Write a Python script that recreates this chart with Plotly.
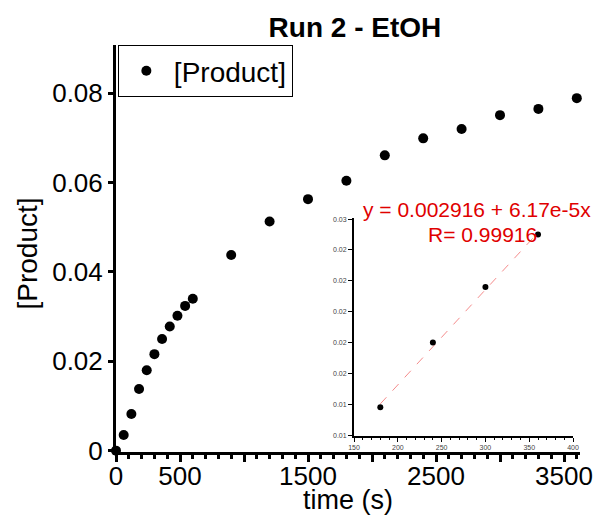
import plotly.graph_objects as go

# ---- data ----
time_s = [0, 60, 120, 180, 240, 300, 360, 420, 480, 540, 600,
          900, 1200, 1500, 1800, 2100, 2400, 2700, 3000, 3300, 3600]
product = [0.0, 0.0035, 0.0082, 0.0138, 0.0180, 0.0216, 0.0250, 0.0278, 0.0302, 0.0324, 0.0340,
           0.0438, 0.0513, 0.0563, 0.0604, 0.0661, 0.0699, 0.0720, 0.0751, 0.0765, 0.0789]

inset_time = [180, 240, 300, 360]
inset_product = [0.0138, 0.0180, 0.0216, 0.0250]

fit_intercept = 0.002916
fit_slope = 6.17e-5
fit_r = 0.99916

x_tickvals = [0, 500, 1000, 1500, 2000, 2500, 3000, 3500]
x_ticktext = ["0", "500", "", "1500", "", "2500", "", "3500"]
y_tickvals = [0, 0.02, 0.04, 0.06, 0.08]
y_ticktext = ["0", "0.02", "0.04", "0.06", "0.08"]

FONT = "Liberation Sans, Arial, sans-serif"

fit_x = [min(inset_time), max(inset_time)]
fit_y = [fit_intercept + fit_slope * t for t in fit_x]

fig = go.Figure()
fig.add_trace(go.Scatter(x=time_s, y=product, mode="markers", name="[Product]",
                         marker=dict(color="black", size=10), cliponaxis=False))
fig.add_trace(go.Scatter(x=fit_x, y=fit_y, mode="lines", showlegend=False,
                         line=dict(color="rgba(240,90,90,0.7)", width=1, dash="dash"),
                         xaxis="x2", yaxis="y2"))
fig.add_trace(go.Scatter(x=inset_time, y=inset_product, mode="markers", showlegend=False,
                         marker=dict(color="black", size=6), xaxis="x2", yaxis="y2"))

fig.update_layout(
    width=600, height=521,
    margin=dict(l=116, r=20, t=45, b=69, autoexpand=False),
    paper_bgcolor="white", plot_bgcolor="white",
    font=dict(family=FONT, color="black"),
    title=dict(text="<b>Run 2 - EtOH</b>", font=dict(size=28, family=FONT, color="black"),
               xref="paper", x=0.515, xanchor="center", yref="container", y=0.948, yanchor="middle"),
    showlegend=True,
    legend=dict(x=0.004, y=1, xanchor="left", yanchor="top", bordercolor="black", borderwidth=1,
                bgcolor="white", font=dict(size=28, family=FONT), itemwidth=45),
    xaxis=dict(range=[0, 3625], showline=True, linewidth=3, linecolor="black", mirror=False,
               automargin=False,
               showgrid=False, zeroline=False, ticks="outside", ticklen=7, tickwidth=3, tickcolor="black",
               tickmode="array", tickvals=x_tickvals, ticktext=x_ticktext,
               tickfont=dict(size=26, family=FONT), ticklabelstandoff=-8,
               minor=dict(ticks="outside", tickmode="linear", tick0=0, dtick=100, ticklen=4,
                          tickwidth=3, tickcolor="black")),
    yaxis=dict(range=[-0.0003, 0.0908], showline=True, linewidth=3, linecolor="black",
               automargin=False,
               showgrid=False, zeroline=False, ticks="outside", ticklen=5, tickwidth=3, tickcolor="black",
               tickmode="array", tickvals=y_tickvals, ticktext=y_ticktext,
               tickfont=dict(size=26, family=FONT)),
    xaxis2=dict(domain=[0.513, 0.985], anchor="y2", range=[150, 400], showline=True, linewidth=2,
                automargin=False,
                linecolor="black", showgrid=False, zeroline=False, ticks="outside", ticklen=4, tickwidth=1,
                tickcolor="black", tick0=150, dtick=50, tickfont=dict(size=7, color="#444", family=FONT),
                minor=dict(ticks="outside", dtick=10, ticklen=2, tickwidth=1, tickcolor="black")),
    yaxis2=dict(domain=[0.0393, 0.576], anchor="x2", range=[0.01194, 0.0261], showline=True, linewidth=2,
                automargin=False,
                linecolor="black", showgrid=False, zeroline=False, ticks="outside", ticklen=4, tickwidth=1,
                tickcolor="black", tick0=0.012, dtick=0.002, tickformat=".2f",
                tickfont=dict(size=7, color="#444", family=FONT)),
    annotations=[
        dict(text="time (s)", xref="paper", yref="paper", x=(348 - 116) / 464, y=(452 - 500) / 407,
             xanchor="center", yanchor="middle", showarrow=False, font=dict(size=27, family=FONT)),
        dict(text="[Product]", xref="paper", yref="paper", x=(26.5 - 116) / 464, y=(452 - 254) / 407,
             xanchor="center", yanchor="middle", showarrow=False, textangle=-90,
             font=dict(size=28, family=FONT)),
        dict(text=f"y = {fit_intercept} + {fit_slope:.2e}x".replace("e-05", "e-5"),
             xref="paper", yref="paper", x=0.7774, y=0.5946, xanchor="center", yanchor="middle",
             showarrow=False, font=dict(size=21, color="#e00000", family=FONT)),
        dict(text=f"R= {fit_r}", xref="paper", yref="paper", x=0.7888, y=0.5349,
             xanchor="center", yanchor="middle", showarrow=False,
             font=dict(size=21, color="#e00000", family=FONT)),
    ],
)

fig.write_html("out.html", config={"displayModeBar": False},
               post_script="document.body.style.margin='0';document.body.style.padding='0';")
